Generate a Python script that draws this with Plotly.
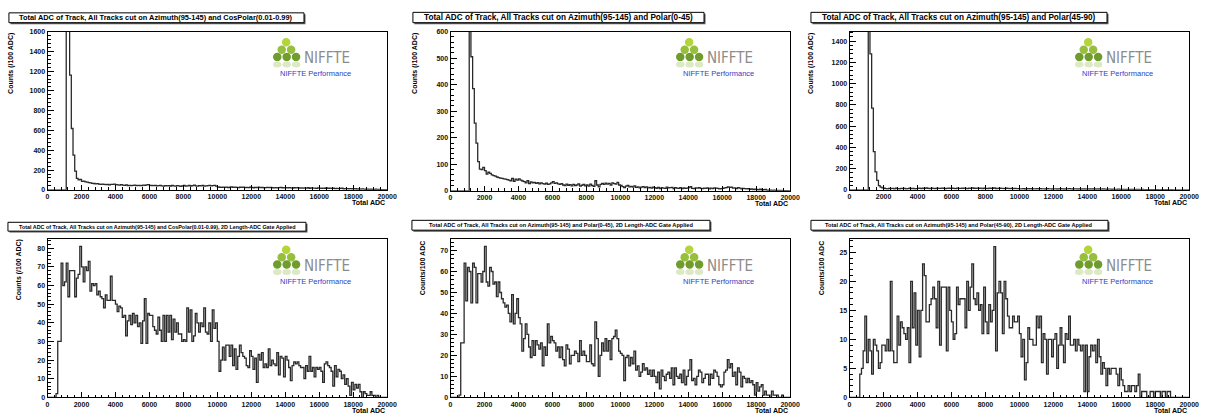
import plotly.graph_objects as go

W, H = 1219, 419

# ---------------- data (counts per 100-ADC bin, 0..20000) ----------------
bin_edges_adc = [i * 100 for i in range(201)]

titles = [
    "Total ADC of Track, All Tracks cut on Azimuth(95-145) and CosPolar(0.01-0.99)",
    "Total ADC of Track, All Tracks cut on Azimuth(95-145) and Polar(0-45)",
    "Total ADC of Track, All Tracks cut on Azimuth(95-145) and Polar(45-90)",
    "Total ADC of Track, All Tracks cut on Azimuth(95-145) and CosPolar(0.01-0.99), 2D Length-ADC Gate Applied",
    "Total ADC of Track, All Tracks cut on Azimuth(95-145) and Polar(0-45), 2D Length-ADC Gate Applied",
    "Total ADC of Track, All Tracks cut on Azimuth(95-145) and Polar(45-90), 2D Length-ADC Gate Applied",
]
y_titles = ["Counts (/100 ADC)", "Counts (/100 ADC)", "Counts (/100 ADC)",
            "Counts (/100 ADC)", "Counts/100 ADC", "Counts/100 ADC"]
x_title = "Total ADC"

cospolar_all = [
    0, 0, 0, 0, 0, 0, 0, 0, 0, 0,
    0, 4200, 2600, 1160, 620, 350, 190, 115, 100, 105,
    85, 88, 80, 78, 72, 70, 66, 64, 60, 62,
    58, 56, 57, 55, 52, 54, 50, 56, 55, 58,
    52, 50, 48, 52, 47, 45, 50, 44, 46, 42,
    45, 48, 43, 46, 44, 42, 47, 45, 50, 52,
    46, 44, 42, 45, 40, 43, 44, 41, 38, 42,
    40, 43, 39, 44, 41, 38, 42, 40, 36, 41,
    44, 38, 40, 45, 39, 42, 48, 40, 38, 43,
    41, 44, 38, 40, 42, 45, 40, 43, 46, 38,
    30, 26, 24, 28, 25, 27, 23, 26, 29, 24,
    27, 25, 22, 26, 24, 28, 23, 25, 22, 26,
    24, 21, 25, 23, 27, 22, 24, 20, 23, 25,
    22, 24, 21, 19, 23, 20, 22, 24, 21, 20,
    23, 19, 22, 20, 18, 21, 19, 22, 18, 20,
    17, 20, 18, 21, 16, 19, 17, 18, 15, 19,
    17, 15, 18, 16, 19, 14, 17, 15, 16, 13,
    15, 12, 14, 16, 11, 13, 12, 10, 12, 11,
    9, 11, 8, 10, 7, 9, 8, 6, 7, 5,
    6, 5, 4, 6, 3, 4, 3, 2, 3, 2,
]

polar0_45_all = [
    0, 0, 0, 0, 0, 0, 0, 0, 0, 0,
    0, 1500, 505, 385, 255, 180, 110, 82, 80, 88,
    76, 63, 70, 66, 60, 57, 55, 52, 50, 48,
    47, 45, 44, 42, 40, 38, 47, 36, 44, 40,
    45, 40, 37, 35, 30, 38, 27, 34, 30, 32,
    28, 31, 26, 30, 27, 25, 29, 24, 26, 30,
    35, 28, 30, 26, 24, 27, 22, 20, 25, 21,
    23, 19, 24, 20, 22, 26, 18, 21, 24, 19,
    22, 18, 25, 20, 17, 38, 22, 15, 24, 28,
    24, 29, 25, 28, 22, 30, 27, 25, 32, 22,
    20, 16, 12, 18, 20, 15, 17, 14, 19, 13,
    15, 11, 14, 16, 12, 15, 11, 13, 10, 14,
    12, 9, 13, 8, 12, 10, 9, 14, 11, 12,
    13, 8, 12, 10, 9, 12, 8, 11, 9, 10,
    12, 16, 9, 8, 11, 10, 12, 9, 8, 10,
    9, 11, 7, 10, 8, 11, 10, 9, 7, 8,
    9, 11, 12, 15, 13, 14, 10, 11, 8, 12,
    10, 7, 9, 8, 7, 8, 6, 7, 5, 6,
    5, 4, 6, 3, 4, 5, 3, 2, 3, 2,
    3, 2, 2, 1, 2, 1, 1, 0, 1, 0,
]

polar45_90_all = [
    0, 0, 0, 0, 0, 0, 0, 0, 0, 0,
    0, 4000, 1280, 770, 360, 170, 90, 40, 25, 18,
    15, 12, 10, 14, 11, 13, 9, 15, 12, 10,
    13, 11, 14, 10, 12, 15, 11, 13, 10, 12,
    14, 16, 12, 15, 13, 18, 14, 12, 15, 13,
    12, 16, 14, 13, 17, 15, 12, 14, 16, 13,
    15, 13, 12, 16, 14, 13, 15, 17, 14, 12,
    16, 14, 18, 15, 13, 17, 14, 16, 12, 15,
    14, 12, 16, 13, 15, 19, 12, 14, 16, 13,
    14, 12, 15, 13, 11, 14, 12, 13, 11, 12,
    10, 9, 11, 8, 10, 12, 9, 11, 10, 9,
    11, 10, 12, 9, 10, 8, 11, 10, 9, 8,
    10, 9, 8, 10, 11, 9, 8, 10, 9, 11,
    9, 8, 10, 9, 8, 10, 7, 9, 8, 7,
    9, 8, 10, 8, 9, 7, 8, 6, 7, 8,
    6, 5, 7, 6, 5, 6, 5, 4, 6, 5,
    4, 3, 5, 4, 3, 4, 3, 4, 2, 3,
    3, 2, 3, 2, 1, 2, 1, 2, 1, 1,
    1, 1, 0, 1, 1, 0, 1, 0, 0, 1,
    0, 0, 0, 0, 0, 0, 0, 0, 0, 0,
]

cospolar_gated = [
    0, 0, 0, 0, 0, 2, 30, 30, 72, 60,
    62, 72, 54, 68, 68, 68, 54, 64, 66, 81,
    70, 62, 70, 68, 73, 57, 61, 60, 61, 55,
    57, 54, 53, 48, 55, 52, 52, 65, 52, 52,
    50, 46, 49, 48, 43, 44, 33, 41, 44, 39,
    45, 40, 44, 38, 40, 29, 41, 53, 29, 45,
    44, 44, 38, 36, 34, 43, 36, 30, 44, 30,
    44, 35, 44, 31, 42, 35, 40, 34, 34, 30,
    31, 30, 48, 35, 47, 30, 33, 45, 40, 35,
    40, 38, 48, 35, 34, 40, 30, 47, 37, 40,
    30, 14, 20, 27, 20, 28, 28, 22, 28, 17,
    26, 15, 22, 28, 24, 22, 21, 17, 16, 25,
    22, 15, 21, 8, 23, 20, 24, 16, 18, 16,
    26, 17, 20, 18, 17, 24, 12, 22, 21, 11,
    22, 20, 16, 9, 17, 19, 18, 19, 17, 16,
    16, 10, 17, 14, 22, 14, 16, 11, 16, 15,
    16, 14, 8, 18, 19, 17, 16, 14, 6, 17,
    11, 15, 14, 10, 12, 7, 10, 6, 1, 8,
    4, 7, 5, 7, 3, 0, 3, 2, 1, 1,
    3, 1, 1, 0, 1, 0, 0, 0, 0, 0,
]

polar0_45_gated = [
    0, 0, 0, 0, 0, 1, 26, 26, 64, 46,
    62, 60, 45, 64, 62, 45, 59, 59, 55, 60,
    72, 55, 53, 62, 60, 54, 55, 48, 55, 50,
    47, 45, 43, 44, 40, 36, 49, 35, 40, 47,
    38, 35, 22, 28, 35, 30, 24, 19, 27, 20,
    27, 25, 23, 26, 15, 24, 20, 35, 26, 29,
    27, 26, 22, 24, 19, 24, 18, 15, 25, 23,
    16, 20, 20, 22, 21, 17, 27, 20, 22, 20,
    17, 17, 25, 16, 15, 36, 28, 10, 20, 26,
    22, 28, 22, 27, 18, 28, 29, 32, 28, 22,
    21, 20, 8, 19, 20, 15, 19, 16, 22, 13,
    15, 10, 12, 16, 13, 14, 11, 13, 10, 13,
    10, 7, 12, 4, 13, 10, 8, 11, 12, 9,
    14, 6, 14, 10, 9, 11, 7, 13, 6, 10,
    13, 18, 8, 9, 6, 10, 13, 12, 7, 9,
    11, 11, 6, 11, 9, 13, 12, 10, 6, 5,
    6, 12, 13, 18, 14, 16, 10, 12, 6, 14,
    12, 5, 10, 9, 7, 9, 7, 8, 6, 1,
    7, 3, 5, 6, 1, 3, 1, 1, 0, 3,
    1, 1, 1, 0, 0, 1, 0, 0, 0, 0,
]

polar45_90_gated = [
    0, 0, 0, 0, 0, 0, 4, 5, 8, 14,
    6, 10, 8, 4, 10, 9, 8, 5, 6, 9,
    9, 8, 10, 8, 20, 8, 6, 6, 14, 9,
    13, 12, 11, 10, 12, 6, 20, 12, 18, 9,
    15, 7, 15, 23, 21, 13, 13, 16, 17, 19,
    17, 12, 20, 9, 19, 19, 19, 8, 19, 15,
    13, 10, 11, 19, 16, 17, 17, 17, 12, 20,
    15, 19, 23, 17, 16, 18, 15, 16, 11, 19,
    13, 11, 16, 13, 15, 26, 8, 18, 20, 18,
    11, 20, 17, 14, 12, 12, 14, 13, 13, 14,
    11, 7, 10, 3, 6, 12, 10, 10, 9, 9,
    14, 12, 14, 6, 11, 10, 4, 10, 10, 7,
    10, 11, 5, 9, 12, 9, 6, 11, 10, 14,
    9, 9, 10, 8, 10, 9, 8, 9, 1, 9,
    1, 7, 9, 8, 9, 6, 10, 7, 4, 6,
    5, 2, 5, 4, 5, 5, 5, 4, 2, 5,
    3, 2, 1, 1, 2, 1, 2, 2, 1, 2,
    4, 0, 1, 1, 1, 0, 0, 1, 1, 0,
    1, 1, 1, 0, 1, 1, 0, 1, 1, 0,
    0, 0, 0, 0, 0, 0, 0, 0, 0, 0,
]

series = [cospolar_all, polar0_45_all, polar45_90_all,
          cospolar_gated, polar0_45_gated, polar45_90_gated]
for s in series:
    assert len(s) == 200

y_max = [1600, 600, 1490, 85, 75.5, 27.3]
y_dtick = [200, 100, 200, 10, 10, 5]

# ---------------- layout geometry (pixels) ----------------
plot_boxes = [  # left, right, top, bottom
    (46, 389, 28, 189), (453, 796, 28, 190), (856, 1199, 28, 189),
    (46, 389, 239, 400), (453, 796, 239, 400), (856, 1199, 239, 400),
]
title_boxes = [
    (7, 305, 9, 19), (415, 709, 8.5, 19), (817, 1116, 8.5, 19),
    (6, 307, 222, 231), (414, 715, 220, 230), (817, 1117, 220, 230),
]
title_sizes = [7.4, 8.2, 8.2, 5.4, 5.6, 5.6]
ytitle_pos = [(9, 60), (417, 60), (817, 60), (18, 270), (425, 268), (828, 268)]


def px(x):
    return x / W


def py(y):
    return 1 - y / H


FONT = "Liberation Sans, Arial, sans-serif"
fig = go.Figure()
shapes = []
annotations = []

for i in range(6):
    l, r, t, b = plot_boxes[i]
    ax = "" if i == 0 else str(i + 1)
    vals = series[i]
    fig.add_trace(go.Scatter(
        x=bin_edges_adc, y=list(vals) + [vals[-1]],
        mode="lines", line=dict(shape="hv", color="#2a2a2a", width=1.3),
        xaxis="x" + ax, yaxis="y" + ax, showlegend=False, hoverinfo="skip"))

    fig.layout["xaxis" + ax] = dict(
        domain=[px(l), px(r)], anchor="y" + ax, range=[0, 20000],
        dtick=2000, tick0=0, tickformat="d", ticks="inside", ticklen=5, tickcolor="black",
        minor=dict(dtick=400, ticklen=2.5, ticks="inside", tickcolor="black"),
        showgrid=False, zeroline=False, showline=True, linecolor="black",
        linewidth=1, mirror=True,
        tickfont=dict(family=FONT, size=7, color="#111", weight="bold"))
    fig.layout["yaxis" + ax] = dict(
        domain=[py(b), py(t)], anchor="x" + ax, range=[0, y_max[i]],
        dtick=y_dtick[i], tick0=0, tickformat="d", ticks="inside", ticklen=6, tickcolor="black",
        minor=dict(dtick=y_dtick[i] / 5, ticklen=3, ticks="inside", tickcolor="black"),
        showgrid=False, zeroline=False, showline=True, linecolor="black",
        linewidth=1, mirror=True,
        tickfont=dict(family=FONT, size=7, color="#111", weight="bold"))

    # title box with ROOT-style shadow
    tl, tr, tt, tb = title_boxes[i]
    shapes.append(dict(type="rect", xref="paper", yref="paper",
                       x0=px(tl + 1.5), x1=px(tr + 1.5), y0=py(tb + 1.5), y1=py(tt + 1.5),
                       fillcolor="#555", line=dict(width=0), layer="above"))
    shapes.append(dict(type="rect", xref="paper", yref="paper",
                       x0=px(tl), x1=px(tr), y0=py(tb), y1=py(tt),
                       fillcolor="white", line=dict(color="black", width=1), layer="above"))
    annotations.append(dict(text=titles[i], xref="paper", yref="paper",
                            x=px((tl + tr) / 2), y=py((tt + tb) / 2),
                            xanchor="center", yanchor="middle", showarrow=False,
                            font=dict(family=FONT, size=title_sizes[i], color="black", weight="bold")))

    # axis titles
    annotations.append(dict(text=x_title, xref="paper", yref="paper",
                            x=px(r), y=py(b + 13), xanchor="right", yanchor="middle",
                            showarrow=False,
                            font=dict(family=FONT, size=7, color="black", weight="bold")))
    yx, yy = ytitle_pos[i]
    annotations.append(dict(text=y_titles[i], xref="paper", yref="paper",
                            x=px(yx), y=py(yy), xanchor="center", yanchor="middle",
                            textangle=-90, showarrow=False,
                            font=dict(family=FONT, size=7, color="black", weight="bold")))

    # NIFFTE logo (drawn)
    circ = [((241, 11), "#b3d43a"),
            ((236.5, 18.5), "#95bf3c"), ((246, 18.5), "#95bf3c"),
            ((232, 26), "#6f9c2c"), ((241.5, 26), "#6f9c2c"), ((251, 26), "#6f9c2c")]
    refl = [(232, 33.5), (241.5, 33.5), (251, 33.5)]
    rad = 4.3
    for (cx, cy), col in circ:
        shapes.append(dict(type="circle", xref="paper", yref="paper",
                           x0=px(l + cx - rad), x1=px(l + cx + rad),
                           y0=py(t + cy + rad), y1=py(t + cy - rad),
                           fillcolor=col, line=dict(width=0), layer="above"))
    for cx, cy in refl:
        shapes.append(dict(type="circle", xref="paper", yref="paper",
                           x0=px(l + cx - rad), x1=px(l + cx + rad),
                           y0=py(t + cy + 3), y1=py(t + cy - 3),
                           fillcolor="#dce9c4", line=dict(width=0), layer="above"))
    annotations.append(dict(text="NIFFTE", xref="paper", yref="paper",
                            x=px(l + 257), y=py(t + 27), xanchor="left", yanchor="middle",
                            showarrow=False,
                            font=dict(family="DejaVu Sans Condensed, Liberation Sans Narrow, Liberation Sans", size=15, color="#8c8c8c")))
    annotations.append(dict(text="NIFFTE Performance", xref="paper", yref="paper",
                            x=px(l + 271), y=py(t + 43), xanchor="center", yanchor="middle",
                            showarrow=False,
                            font=dict(family=FONT, size=7.5, color="#2b3fc4")))

fig.update_layout(width=W, height=H, margin=dict(l=0, r=0, t=0, b=0),
                  paper_bgcolor="white", plot_bgcolor="white",
                  shapes=shapes, annotations=annotations, showlegend=False)

fig.write_html("out.html")
